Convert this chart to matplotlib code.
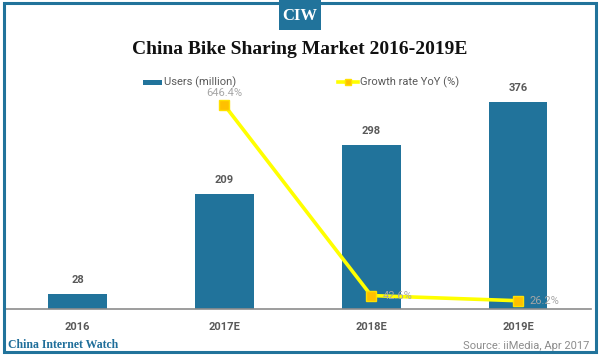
import matplotlib
matplotlib.use("Agg")
import matplotlib.pyplot as plt
from matplotlib.patches import Rectangle
from matplotlib.lines import Line2D

categories = ["2016", "2017E", "2018E", "2019E"]
users = [28, 209, 298, 376]
growth_x = ["2017E", "2018E", "2019E"]
growth = [646.4, 42.6, 26.2]
growth_labels = ["646.4%", "42.6%", "26.2%"]

W, H = 600, 359
BLUE = "#21739B"
fig = plt.figure(figsize=(6, 3.59), dpi=100)
fig.patch.set_facecolor("white")

def fx(x):
    return x / W

def fy(y):
    return 1 - y / H

ax_left, ax_right = 4.1, 591.4
ax_top, ax_bot = 90, 309
ax = fig.add_axes([fx(ax_left), fy(ax_bot), fx(ax_right - ax_left), (ax_bot - ax_top) / H])
xs = list(range(len(categories)))
ax.bar(xs, users, width=0.4, color=BLUE, zorder=2)
ax.set_xlim(-0.5, len(categories) - 0.5)
ax.set_ylim(0, 397.2)
for s in ["top", "right", "left"]:
    ax.spines[s].set_visible(False)
ax.spines["bottom"].set_color("#8c8c8c")
ax.spines["bottom"].set_linewidth(1.2)
ax.set_yticks([])
ax.set_xticks(xs)
ax.set_xticklabels(categories, fontsize=8, fontweight="bold", color="#595959", family="Roboto")
ax.tick_params(axis="x", length=0, pad=9)
for x, v in zip(xs, users):
    ax.annotate(str(v), (x, v), xytext=(0, 6), textcoords="offset points",
                ha="center", va="bottom", fontsize=8, fontweight="bold",
                color="#595959", family="Roboto")

ax2 = ax.twinx()
ax2.set_ylim(0, 694)
for s in ax2.spines.values():
    s.set_visible(False)
ax2.set_yticks([])
gx = [categories.index(c) for c in growth_x]
ax2.plot(gx, growth, color="#FFFF00", lw=2.6, marker="s", markersize=7,
         markerfacecolor="#FFC000", markeredgecolor="#FFE000", markeredgewidth=1, zorder=3)
offsets = [((0, 5), "center", "bottom"), ((8, 0), "left", "center"), ((8, 0), "left", "center")]
for x, v, lab, (off, ha, va) in zip(gx, growth, growth_labels, offsets):
    ax2.annotate(lab, (x, v), xytext=off, textcoords="offset points", ha=ha, va=va,
                 fontsize=8, color="#A6A6A6", family="Roboto")

# Title
fig.text(fx(300), fy(50), "China Bike Sharing Market 2016-2019E", ha="center", va="center",
         fontsize=14, fontweight="bold", family="Liberation Serif", color="#111111")

# Legend
fig.patches.append(Rectangle((fx(143), fy(84.5)), fx(19), 5 / H, transform=fig.transFigure,
                             facecolor=BLUE, edgecolor="none"))
fig.text(fx(164), fy(82), "Users (million)", ha="left", va="center", fontsize=8,
         color="#595959", family="Roboto")
fig.lines.append(Line2D([fx(338), fx(358)], [fy(82), fy(82)], transform=fig.transFigure,
                        color="#FFFF00", lw=2.6, marker=None))
fig.lines.append(Line2D([fx(348)], [fy(82)], transform=fig.transFigure, marker="s",
                        markersize=5, markerfacecolor="#FFC000", markeredgecolor="#FFE000",
                        linestyle="none"))
fig.text(fx(360), fy(82), "Growth rate YoY (%)", ha="left", va="center", fontsize=8,
         color="#595959", family="Roboto")

# Footer
fig.text(fx(8), fy(345), "China Internet Watch", ha="left", va="center", fontsize=8.5,
         fontweight="bold", family="Liberation Serif", color="#1F6E9A")
fig.text(fx(589), fy(346), "Source: iiMedia, Apr 2017", ha="right", va="center", fontsize=8,
         color="#8C8C8C", family="Roboto")

# Border
fig.patches.append(Rectangle((fx(3.5), fy(351.5)), fx(592), (351.5 - 2.5) / H,
                             transform=fig.transFigure, facecolor="none", edgecolor=BLUE,
                             lw=2.2, zorder=5))
# CIW box
fig.patches.append(Rectangle((fx(279), fy(29.5)), fx(42), 29.5 / H, transform=fig.transFigure,
                             facecolor=BLUE, edgecolor="none", zorder=6))
fig.text(fx(300), fy(16), "CIW", ha="center", va="center", fontsize=12, fontweight="bold",
         family="Liberation Serif", color="white", zorder=7)

fig.savefig("out.png", dpi=100)
